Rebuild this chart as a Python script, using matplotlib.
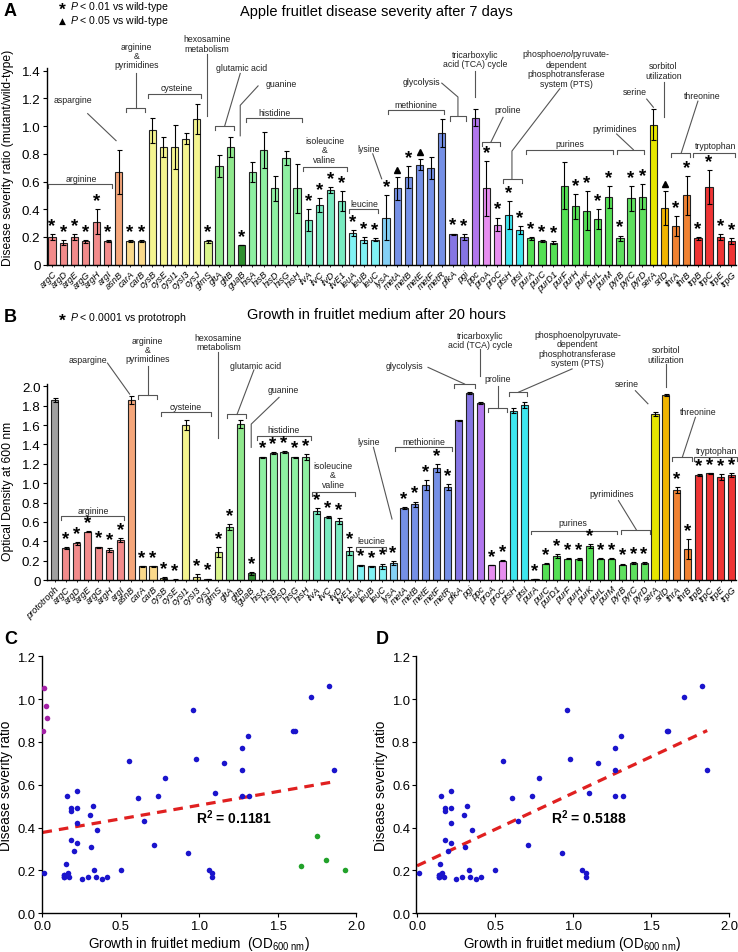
import matplotlib
matplotlib.use('Agg')
import matplotlib.pyplot as plt
import numpy as np

plt.rcParams['font.family'] = ['Liberation Sans', 'DejaVu Sans']
plt.rcParams['mathtext.fontset'] = 'custom'
plt.rcParams['mathtext.rm'] = 'Liberation Sans'
plt.rcParams['mathtext.it'] = 'Liberation Sans:italic'
plt.rcParams['mathtext.bf'] = 'Liberation Sans:bold'

# ---- data ----
genes = ['argC', 'argD', 'argE', 'argG', 'argH', 'argI', 'asnB', 'carA', 'carB',
         'cysB', 'cysE', 'cysI1', 'cysI3', 'cysJ', 'glmS', 'gltA', 'gltB', 'guaB',
         'hisA', 'hisB', 'hisD', 'hisG', 'hisH', 'ilvA', 'ilvC', 'ilvD', 'ilvE1',
         'leuA', 'leuB', 'leuC', 'lysA', 'metA', 'metB', 'metE', 'metF', 'metR',
         'pfkA', 'pgi', 'ppc', 'proA', 'proC', 'ptsH', 'ptsI', 'purA', 'purC',
         'purD1', 'purF', 'purH', 'purK', 'purL', 'purM', 'pyrB', 'pyrC', 'pyrD',
         'serA', 'srlD', 'thrA', 'thrB', 'trpB', 'trpC', 'trpE', 'trpG']

# panel A: disease severity ratio (mutant / wild-type)
disease = [0.20, 0.16, 0.20, 0.17, 0.31, 0.17, 0.67, 0.17, 0.17,
           0.97, 0.85, 0.85, 0.91, 1.05, 0.17, 0.71, 0.85, 0.14,
           0.67, 0.83, 0.55, 0.77, 0.55, 0.32, 0.43, 0.54, 0.46,
           0.23, 0.18, 0.18, 0.34, 0.55, 0.63, 0.72, 0.70, 0.95,
           0.22, 0.20, 1.06, 0.55, 0.29, 0.36, 0.25, 0.19, 0.17,
           0.16, 0.57, 0.42, 0.39, 0.33, 0.49, 0.19, 0.48, 0.49,
           1.01, 0.41, 0.28, 0.50, 0.19, 0.56, 0.20, 0.17]
disease_err = [0.02, 0.02, 0.02, 0.01, 0.09, 0.005, 0.16, 0.005, 0.005,
               0.09, 0.07, 0.16, 0.04, 0.11, 0.01, 0.08, 0.07, 0.0,
               0.07, 0.13, 0.09, 0.05, 0.18, 0.08, 0.05, 0.02, 0.07,
               0.02, 0.02, 0.01, 0.16, 0.08, 0.08, 0.04, 0.08, 0.10,
               0.005, 0.02, 0.06, 0.20, 0.05, 0.10, 0.03, 0.01, 0.005,
               0.01, 0.17, 0.09, 0.14, 0.07, 0.08, 0.02, 0.09, 0.09,
               0.11, 0.12, 0.07, 0.14, 0.01, 0.12, 0.02, 0.02]
sig_a = ['*', '*', '*', '*', '*', '*', '', '*', '*',
         '', '', '', '', '', '*', '', '', '*',
         '', '', '', '', '', '*', '*', '*', '*',
         '*', '*', '*', '*', '^', '*', '^', '', '',
         '*', '*', '', '*', '*', '*', '*', '*', '*',
         '*', '', '*', '*', '*', '*', '*', '*', '*',
         '', '^', '*', '*', '*', '*', '*', '*']

# panel B: optical density at 600 nm after 20 h
prototroph_od = 1.86
prototroph_err = 0.02
growth = [0.33, 0.38, 0.50, 0.34, 0.31, 0.41, 1.86, 0.14, 0.14,
          0.02, 0.005, 1.60, 0.03, 0.01, 0.29, 0.55, 1.61, 0.07,
          1.27, 1.31, 1.32, 1.27, 1.27, 0.71, 0.65, 0.61, 0.30,
          0.15, 0.14, 0.14, 0.18, 0.74, 0.78, 0.98, 1.16, 0.96,
          1.65, 1.93, 1.83, 0.155, 0.20, 1.75, 1.81, 0.01, 0.17,
          0.25, 0.22, 0.22, 0.35, 0.22, 0.22, 0.16, 0.18, 0.18,
          1.71, 1.91, 0.93, 0.32, 1.08, 1.10, 1.06, 1.08]
growth_err = [0.01, 0.015, 0.005, 0.005, 0.02, 0.02, 0.04, 0.003, 0.005,
              0.01, 0.002, 0.05, 0.03, 0.005, 0.05, 0.03, 0.04, 0.015,
              0.005, 0.01, 0.01, 0.005, 0.03, 0.03, 0.01, 0.03, 0.04,
              0.01, 0.003, 0.03, 0.02, 0.01, 0.03, 0.05, 0.04, 0.03,
              0.005, 0.01, 0.01, 0.003, 0.003, 0.03, 0.03, 0.003, 0.005,
              0.02, 0.005, 0.01, 0.02, 0.005, 0.005, 0.01, 0.01, 0.01,
              0.02, 0.01, 0.03, 0.10, 0.01, 0.005, 0.03, 0.02]
sig_b = ['*', '*', '*', '*', '*', '*', '', '*', '*',
         '*', '*', '', '*', '*', '*', '*', '', '*',
         '*', '*', '*', '*', '*', '*', '*', '*', '*',
         '*', '*', '*', '*', '*', '*', '*', '*', '*',
         '', '', '', '*', '*', '', '', '*', '*',
         '*', '*', '*', '*', '*', '*', '*', '*', '*',
         '', '', '*', '*', '*', '*', '*', '*']

# panels C / D
not_scattered = ['guaB', 'srlD']
cys_outliers = ['cysB', 'cysE', 'cysI3', 'cysJ']
carbon_outliers = ['pfkA', 'pgi', 'ptsH', 'ptsI']
r2_all = '0.1181'
r2_trim = '0.5188'

yticks_a = [0, 0.2, 0.4, 0.6, 0.8, 1.0, 1.2, 1.4]
yticklabels_a = ['0', '0.2', '0.4', '0.6', '0.8', '1.0', '1.2', '1.4']
yticks_b = [0, 0.2, 0.4, 0.6, 0.8, 1.0, 1.2, 1.4, 1.6, 1.8, 2.0]
yticklabels_b = ['0', '0.2', '0.4', '0.6', '0.8', '1.0', '1.2', '1.4', '1.6', '1.8', '2.0']
xticks_cd = [0.0, 0.5, 1.0, 1.5, 2.0]
xticklabels_cd = ['0.0', '0.5', '1.0', '1.5', '2.0']
yticks_cd = [0.0, 0.2, 0.4, 0.6, 0.8, 1.0, 1.2]
yticklabels_cd = ['0.0', '0.2', '0.4', '0.6', '0.8', '1.0', '1.2']

group_colors = {'arg': '#f28b8b', 'asn': '#f5a67a', 'car': '#fad98b', 'cys': '#f4f48f',
                'glm': '#d9f58b', 'glt': '#8fe88c', 'gua': '#2f8f2f', 'his': '#8ef0a2',
                'ilv': '#78ebc0', 'leu': '#80f2f4', 'lys': '#84d0f6', 'met': '#7590e6',
                'pfk': '#8575e3', 'pgi': '#8575e3', 'ppc': '#b176ee', 'pro': '#e78ef0',
                'pts': '#3fe6ef', 'pur': '#54e054', 'pyr': '#5fe05f', 'ser': '#e6e600',
                'srl': '#f0b400', 'thr': '#f08232', 'trp': '#ef3434'}


def gene_color(g):
    if g == 'prototroph':
        return '#a0a0a0'
    return group_colors[g[:3]]


W, H = 738, 953
fig = plt.figure(figsize=(W / 100, H / 100), dpi=100)


def px_axes(l, t, r, b):
    return fig.add_axes([l / W, 1 - b / H, (r - l) / W, (b - t) / H])


GC = '#555555'
LFS = 6.3


def bracket(ax, x0, x1, y, drop):
    ax.plot([x0, x0, x1, x1], [y - drop, y, y, y - drop], color=GC, lw=0.8, clip_on=False)


def leader(ax, xs, ys):
    ax.plot(xs, ys, color=GC, lw=0.8, clip_on=False)


def glabel(ax, x, y, s):
    ax.text(x, y, s, ha='center', va='center', fontsize=LFS, color='#222222',
            linespacing=1.05, clip_on=False)


def bar_panel(ax, names, vals, errs, sigs, ylim, yticks, ylabels, ylabel, star_off, label_y):
    x = np.arange(len(names))
    ax.bar(x, vals, width=0.65, color=[gene_color(g) for g in names],
           edgecolor='#222222', linewidth=0.8, zorder=2)
    ax.errorbar(x, vals, yerr=errs, fmt='none', ecolor='black', elinewidth=0.8,
                capsize=1.8, capthick=0.8, zorder=3)
    for i, s in enumerate(sigs):
        top = vals[i] + errs[i]
        if s == '*':
            ax.text(i, top + star_off, '*', ha='center', va='center', fontsize=13.5,
                    fontweight='bold', zorder=4, clip_on=False)
        elif s == '^':
            ax.plot(i, top + star_off * 0.85, marker='^', color='black', ms=5, zorder=4)
    ax.set_xlim(-0.48 if len(names) == 62 else -0.74, len(names) - 1 + 0.42)
    ax.set_ylim(*ylim)
    ax.set_xticks(x)
    ax.set_xticklabels(names, rotation=45, ha='right', rotation_mode='anchor',
                       fontstyle='italic', fontsize=6.6)
    ax.set_yticks(yticks)
    ax.set_yticklabels(ylabels, fontsize=9.6)
    ax.tick_params(axis='x', length=1.5, pad=1.5, width=0.6)
    ax.tick_params(axis='y', length=3, pad=1.5, width=0.8)
    ax.set_ylabel(ylabel, fontsize=8.7)
    ax.yaxis.set_label_coords(-0.047, label_y)
    for sp in ['top', 'right']:
        ax.spines[sp].set_visible(False)
    for sp in ['left', 'bottom']:
        ax.spines[sp].set_linewidth(1.0)


# ---------------- panel A ----------------
axA = px_axes(46.7, 68.9, 736, 265.7)
bar_panel(axA, genes, disease, disease_err, sig_a, (0, 1.42), yticks_a, yticklabels_a,
          'Disease severity ratio (mutant/wild-type)', 0.062, 0.55)
ia = {g: i for i, g in enumerate(genes)}
d = 0.03
bracket(axA, ia['argC'] - 0.35, ia['argI'] + 0.4, 0.585, d)
glabel(axA, 2.6, 0.625, 'arginine')
glabel(axA, 1.9, 1.19, 'aspargine')
leader(axA, [3.2, 5.75], [1.09, 0.895])
bracket(axA, ia['carA'] - 0.35, ia['carB'] + 0.35, 1.13, d)
leader(axA, [7.5, 7.5], [1.13, 1.38])
glabel(axA, 7.6, 1.51, 'arginine\n&\npyrimidines')
bracket(axA, ia['cysB'] - 0.35, ia['cysJ'] + 0.35, 1.235, d)
glabel(axA, 11.2, 1.28, 'cysteine')
leader(axA, [ia['glmS'] - 0.05] * 2, [1.07, 1.52])
glabel(axA, 13.9, 1.595, 'hexosamine\nmetabolism')
bracket(axA, ia['gltA'] - 0.35, ia['gltB'] + 0.35, 1.0, d)
leader(axA, [15.5, 16.9], [1.0, 1.38])
glabel(axA, 17.0, 1.42, 'glutamic acid')
leader(axA, [16.9, 16.9, 18.5], [0.93, 1.15, 1.29])
glabel(axA, 20.6, 1.31, 'guanine')
bracket(axA, ia['hisA'] - 0.55, ia['hisH'] + 0.45, 1.058, d)
glabel(axA, 20.0, 1.10, 'histidine')
bracket(axA, ia['ilvA'] - 0.45, ia['ilvE1'] + 0.45, 0.707, d)
glabel(axA, 24.5, 0.83, 'isoleucine\n&\nvaline')
bracket(axA, ia['leuA'] - 0.35, ia['leuC'] + 0.3, 0.40, d)
glabel(axA, 28.0, 0.44, 'leucine')
glabel(axA, 28.4, 0.84, 'lysine')
leader(axA, [28.8, 29.6], [0.80, 0.62])
bracket(axA, ia['metA'] - 0.8, ia['metR'] + 0.2, 1.116, d)
glabel(axA, 32.7, 1.155, 'methionine')
bracket(axA, ia['pfkA'] - 0.3, ia['pgi'] + 0.2, 1.07, d)
leader(axA, [36.45, 36.45, 35.0], [1.07, 1.21, 1.31])
glabel(axA, 33.2, 1.32, 'glycolysis')
leader(axA, [ia['ppc']] * 2, [1.21, 1.40])
glabel(axA, 38.0, 1.485, 'tricarboxylic\nacid (TCA) cycle')
bracket(axA, ia['proA'] - 0.4, ia['proC'] + 0.2, 0.883, d)
leader(axA, [39.4, 40.5], [0.883, 1.063])
glabel(axA, 40.9, 1.12, 'proline')
bracket(axA, ia['ptsH'] - 0.5, ia['ptsI'] + 0.2, 0.618, d)
leader(axA, [41.3, 41.3, 45.6], [0.618, 0.82, 1.27])
glabel(axA, 46.2, 1.425, 'phospho$\\it{enol}$pyruvate-\ndependent\nphosphotransferase\nsystem (PTS)')
bracket(axA, ia['purA'] - 0.4, ia['purM'] + 0.4, 0.83, d)
glabel(axA, 46.5, 0.878, 'purines')
bracket(axA, ia['pyrB'] - 0.3, ia['pyrD'] + 0.2, 0.83, d)
leader(axA, [52.2, 50.7], [0.83, 0.943])
glabel(axA, 50.5, 0.985, 'pyrimidines')
glabel(axA, 52.3, 1.25, 'serine')
leader(axA, [53.4, 54.0], [1.195, 1.136])
leader(axA, [ia['srlD'] - 0.05] * 2, [1.063, 1.316])
glabel(axA, 54.9, 1.40, 'sorbitol\nutilization')
bracket(axA, ia['thrA'] - 0.4, ia['thrB'] + 0.3, 0.806, d)
leader(axA, [56.5, 58.0], [0.806, 1.18])
glabel(axA, 58.4, 1.22, 'threonine')
bracket(axA, ia['trpB'] - 0.4, ia['trpG'] + 0.3, 0.806, d)
glabel(axA, 59.6, 0.86, 'tryptophan')

# ---------------- panel B ----------------
axB = px_axes(46.7, 385.4, 736, 581)
genes_b = ['prototroph'] + genes
bar_panel(axB, genes_b, [prototroph_od] + growth, [prototroph_err] + growth_err,
          [''] + sig_b, (0, 2.02), yticks_b, yticklabels_b,
          'Optical Density at 600 nm', 0.088, 0.46)
ib = {g: i for i, g in enumerate(genes_b)}
d = 0.04
bracket(axB, ib['argC'] - 0.45, ib['argI'] + 0.35, 0.658, d)
glabel(axB, 3.5, 0.72, 'arginine')
glabel(axB, 3.0, 2.28, 'aspargine')
leader(axB, [4.83, 6.86], [2.24, 1.92])
bracket(axB, ib['carA'] - 0.4, ib['carB'] + 0.4, 1.91, d)
leader(axB, [8.5, 8.5], [1.91, 2.21])
glabel(axB, 8.5, 2.38, 'arginine\n&\npyrimidines')
bracket(axB, ib['cysB'] - 0.25, ib['cysJ'] + 0.35, 1.73, d)
glabel(axB, 12.0, 1.79, 'cysteine')
leader(axB, [ib['glmS']] * 2, [1.47, 2.35])
glabel(axB, 15.0, 2.455, 'hexosamine\nmetabolism')
bracket(axB, ib['gltA'] - 0.2, ib['gltB'] + 0.55, 1.71, d)
leader(axB, [16.7, 18.25], [1.71, 2.17])
glabel(axB, 18.4, 2.22, 'glutamic acid')
leader(axB, [18.0, 18.0, 20.55], [1.37, 1.61, 1.886])
glabel(axB, 20.9, 1.97, 'guanine')
bracket(axB, ib['hisA'] - 0.5, ib['hisH'] + 0.5, 1.484, d)
glabel(axB, 21.0, 1.55, 'histidine')
bracket(axB, ib['ilvA'] - 0.4, ib['ilvE1'] + 0.5, 0.905, d)
glabel(axB, 25.5, 1.085, 'isoleucine\n&\nvaline')
bracket(axB, ib['leuA'] - 0.4, ib['leuC'] + 0.35, 0.337, d)
glabel(axB, 29.0, 0.405, 'leucine')
glabel(axB, 28.8, 1.43, 'lysine')
leader(axB, [29.2, 30.9], [1.37, 0.63])
bracket(axB, ib['metA'] - 0.8, ib['metR'] + 0.4, 1.377, d)
glabel(axB, 33.8, 1.43, 'methionine')
bracket(axB, ib['pfkA'] - 0.4, ib['pgi'] + 0.5, 2.024, d)
leader(axB, [37.55, 34.2], [2.024, 2.196])
glabel(axB, 32.0, 2.22, 'glycolysis')
leader(axB, [ib['ppc']] * 2, [2.11, 2.385])
glabel(axB, 39.0, 2.48, 'tricarboxylic\nacid (TCA) cycle')
bracket(axB, ib['proA'] - 0.3, ib['proC'] + 0.4, 1.776, d)
leader(axB, [40.6, 40.6], [1.776, 2.006])
glabel(axB, 40.6, 2.08, 'proline')
bracket(axB, ib['ptsH'] - 0.4, ib['ptsI'] + 0.3, 1.94, d)
leader(axB, [42.5, 47.4], [1.94, 2.18])
glabel(axB, 47.9, 2.39, 'phosphoenolpyruvate-\ndependent\nphosphotransferase\nsystem (PTS)')
bracket(axB, ib['purA'] - 0.4, ib['purM'] + 0.5, 0.51, d)
glabel(axB, 47.5, 0.59, 'purines')
bracket(axB, ib['pyrB'] - 0.1, ib['pyrD'] + 0.5, 0.516, d)
leader(axB, [53.3, 51.65], [0.516, 0.82])
glabel(axB, 51.0, 0.895, 'pyrimidines')
glabel(axB, 52.4, 2.03, 'serine')
leader(axB, [53.2, 54.35], [1.955, 1.82])
leader(axB, [ib['srlD']] * 2, [1.99, 2.23])
glabel(axB, 56.0, 2.33, 'sorbitol\nutilization')
bracket(axB, ib['thrA'] - 0.4, ib['thrB'] + 0.4, 1.267, d)
leader(axB, [57.5, 58.7], [1.267, 1.68])
glabel(axB, 59.0, 1.74, 'threonine')
bracket(axB, ib['trpB'] - 0.4, ib['trpG'] + 0.5, 1.267, d)
glabel(axB, 60.6, 1.335, 'tryptophan')

# ---------------- titles, legends, letters ----------------
def ftext(px, py, s, **kw):
    fig.text(px / W, 1 - py / H, s, **kw)


ftext(376, 12, 'Apple fruitlet disease severity after 7 days', ha='center', va='center', fontsize=10.5)
ftext(376, 315, 'Growth in fruitlet medium after 20 hours', ha='center', va='center', fontsize=10.5)
ftext(4, 12, 'A', ha='left', va='center', fontsize=13, fontweight='bold')
ftext(4, 317, 'B', ha='left', va='center', fontsize=13, fontweight='bold')
ftext(4, 640, 'C', ha='left', va='center', fontsize=13, fontweight='bold')
ftext(376, 640, 'D', ha='left', va='center', fontsize=13, fontweight='bold')
ftext(62, 10, '*', ha='center', va='center', fontsize=12.5, fontweight='bold')
ftext(70, 7, '$\\it{P}$ < 0.01 vs wild-type', ha='left', va='center', fontsize=7.6)
ftext(62, 21, '\u25B2', ha='center', va='center', fontsize=6.5, family=['DejaVu Sans'])
ftext(70, 21, '$\\it{P}$ < 0.05 vs wild-type', ha='left', va='center', fontsize=7.6)
ftext(62, 321, '*', ha='center', va='center', fontsize=12.5, fontweight='bold')
ftext(70, 318, '$\\it{P}$ < 0.0001 vs prototroph', ha='left', va='center', fontsize=7.6)

# ---------------- panels C and D ----------------
names_s = [g for g in genes if g not in not_scattered]
gx = np.array([growth[ia[g]] for g in names_s])
dy = np.array([disease[ia[g]] for g in names_s])
is_cys = np.array([g in cys_outliers for g in names_s])
is_carbon = np.array([g in carbon_outliers for g in names_s])
core = ~(is_cys | is_carbon)


def scatter_panel(ax, show_outliers, r2, r2x, xlab):
    if show_outliers:
        mask = np.ones(len(gx), bool)
        ax.scatter(gx[is_cys], dy[is_cys], s=16, color='#a321a6', zorder=3, linewidths=0)
        ax.scatter(gx[is_carbon], dy[is_carbon], s=16, color='#22a22a', zorder=3, linewidths=0)
    else:
        mask = core
    ax.scatter(gx[core], dy[core], s=16, color='#1a14cc', zorder=3, linewidths=0)
    m, b = np.polyfit(gx[mask], dy[mask], 1)
    xl = np.array([0.0, gx[core].max()])
    ax.plot(xl, m * xl + b, color='#e02020', lw=2.3, ls=(0, (3, 2.2)), zorder=2)
    ax.text(r2x, 0.45, 'R$^{\\mathbf{2}}$ = ' + r2, fontsize=10, fontweight='bold', va='center')
    ax.set_xlim(-0.005, 2.0)
    ax.set_ylim(0, 1.2)
    ax.set_xticks(xticks_cd)
    ax.set_xticklabels(xticklabels_cd, fontsize=9.4)
    ax.set_yticks(yticks_cd)
    ax.set_yticklabels(yticklabels_cd, fontsize=9.4)
    ax.tick_params(length=3, pad=1.5, width=0.8)
    ax.set_ylabel('Disease severity ratio', fontsize=9.8, labelpad=3)
    ax.set_xlabel(xlab, fontsize=9.8, labelpad=2)
    for sp in ['top', 'right']:
        ax.spines[sp].set_visible(False)
    for sp in ['left', 'bottom']:
        ax.spines[sp].set_linewidth(1.0)


axC = px_axes(41.7, 657.3, 356, 914.3)
scatter_panel(axC, True, r2_all, 0.98, 'Growth in fruitlet medium  (OD$_{\\mathrm{600\\ nm}}$)')
axD = px_axes(416.3, 657.3, 729, 914.3)
scatter_panel(axD, False, r2_trim, 0.86, 'Growth in fruitlet medium (OD$_{\\mathrm{600\\ nm}}$)')

fig.savefig('out.png', dpi=100)
